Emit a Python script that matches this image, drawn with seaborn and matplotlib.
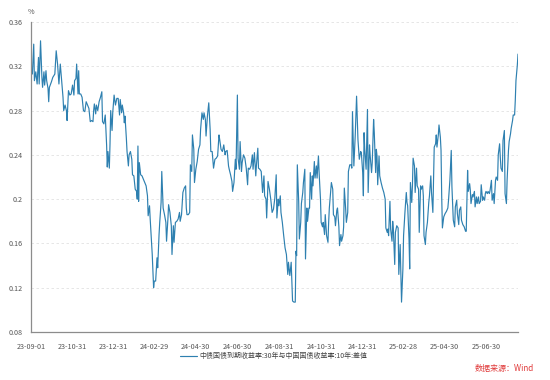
import matplotlib
matplotlib.use("Agg")
import matplotlib.pyplot as plt
import seaborn as sns
import pandas as pd
import numpy as np

# ---------------- data ----------------
start_date = "2023-09-01"
# day offsets from start_date
days_p1 = [0,2,4,5,7,9,11,12,14,16,17,19,20,22,23,25,26,27,30,32,35,37,39,41,43,45,47,48,50,52,
           53,55,57,59,61,63,64,66,67,69,70,71,73,75,77,79,81,83,85,87,89,91,92,93,95,96,98,100,102,104,
           105,107,109,111,112,113,115,116,117,119]
vals_p1 = [0.319,0.313,0.340,0.307,0.315,0.304,0.328,0.304,0.343,0.310,0.301,0.315,0.303,0.316,0.307,0.300,0.288,0.301,0.306,0.310,
           0.313,0.334,0.322,0.304,0.322,0.307,0.292,0.280,0.285,0.280,0.271,0.298,0.294,0.295,0.303,0.294,0.307,0.309,0.322,0.295,
           0.316,0.295,0.295,0.292,0.280,0.279,0.288,0.285,0.282,0.270,0.271,0.270,0.280,0.286,0.277,0.285,0.280,0.288,0.292,0.297,
           0.270,0.268,0.276,0.249,0.229,0.243,0.228,0.250,0.280,0.262]

days_p2 = [120,122,124,126,128,130,131,133,134,136,137,138,140,141,143,144,146,148,149,151,
           153,155,156,157,158,159,161,163,165,167,169,171,172,174,175,177,178,179,180,181,
           183,185,186,188,189,191,192,194,196,198,199,201,202,204,206,207,209,210,212,214,
           216,218,219,221,223,225,227,228,229,231,233,234,236,237]
vals_p2 = [0.278,0.294,0.285,0.291,0.291,0.276,0.290,0.278,0.285,0.278,0.269,0.275,0.255,0.243,0.230,0.240,0.243,0.236,0.222,0.221,
           0.209,0.207,0.200,0.248,0.198,0.233,0.222,0.221,0.218,0.215,0.212,0.203,0.185,0.194,0.182,0.161,0.150,0.134,0.120,0.126,
           0.126,0.147,0.138,0.168,0.179,0.197,0.225,0.192,0.186,0.179,0.162,0.182,0.195,0.188,0.176,0.150,0.176,0.161,0.179,0.180,
           0.182,0.188,0.180,0.186,0.206,0.210,0.212,0.192,0.186,0.186,0.188,0.231,0.225,0.258]

days_p3 = [239,240,242,244,246,248,249,251,253,254,256,257,259,261,263,264,266,268,270,272,
           274,276,277,279,281,283,285,286,288,290,291,293,295,296,298,300,301,303,304,306,
           307,309,310,312,314,316,318,319,321,323,325,326,328,330,331,333,334,336,338,340,
           342,343,345,346,348,350,352,354]
vals_p3 = [0.245,0.215,0.227,0.234,0.245,0.249,0.263,0.278,0.272,0.278,0.272,0.257,0.275,0.287,0.263,0.243,0.243,0.228,0.236,0.237,
           0.239,0.258,0.254,0.245,0.243,0.249,0.240,0.243,0.244,0.230,0.227,0.222,0.216,0.207,0.215,0.236,0.227,0.294,0.237,0.227,
           0.252,0.225,0.233,0.240,0.237,0.228,0.213,0.228,0.227,0.230,0.240,0.227,0.242,0.221,0.231,0.246,0.228,0.227,0.225,0.206,
           0.221,0.203,0.200,0.183,0.216,0.209,0.200,0.188]

days_p4 = [356,358,360,361,363,364,366,367,369,371,373,375,377,378,380,382,383,384,386,388,
           389,390,391,393,394,396,397,399,400,402,403,405,406,408,409,410,412,413,414,416,
           417,419,420,422,423,425,426,428,429,431,432,434,436,437,438,440,441,443,444,446,
           447,449,450,452,453,455,456,458,459,460,462,463,465,466,468,470,471,472]
vals_p4 = [0.191,0.201,0.222,0.183,0.200,0.194,0.203,0.188,0.179,0.167,0.156,0.150,0.132,0.143,0.131,0.143,0.125,0.108,0.107,0.107,
           0.153,0.149,0.231,0.198,0.164,0.179,0.196,0.206,0.215,0.227,0.146,0.192,0.180,0.192,0.192,0.224,0.200,0.221,0.212,0.234,
           0.219,0.230,0.219,0.239,0.224,0.200,0.179,0.175,0.179,0.168,0.186,0.167,0.161,0.179,0.192,0.207,0.215,0.209,0.186,0.184,
           0.176,0.190,0.192,0.175,0.158,0.168,0.162,0.167,0.175,0.210,0.191,0.179,0.188,0.225,0.231,0.231,0.228,0.279]

days_p5 = [474,476,478,480,482,484,485,487,488,489,490,492,494,495,497,498,500,501,503,504,
           506,507,508,509,511,512,514,516,518,520,521,523,524,525,527,528,530,531,532,534,
           535,537,539,540,542,543,544,546,547,549,551,552,553,555,556,557,559,560,561,563,
           564,566,567,569,570,572,573,575,576,577,579,580,582,584,585,587,588,590]
vals_p5 = [0.230,0.257,0.293,0.254,0.236,0.243,0.242,0.224,0.203,0.260,0.245,0.227,0.281,0.206,0.249,0.239,0.224,0.233,0.272,0.260,
           0.224,0.245,0.239,0.213,0.239,0.221,0.215,0.210,0.206,0.200,0.174,0.170,0.173,0.167,0.198,0.173,0.162,0.180,0.173,0.141,
           0.170,0.176,0.174,0.132,0.159,0.132,0.107,0.137,0.167,0.188,0.206,0.197,0.194,0.164,0.137,0.215,0.197,0.212,0.237,0.230,
           0.206,0.228,0.212,0.209,0.170,0.212,0.209,0.212,0.203,0.167,0.159,0.170,0.179,0.197,0.203,0.221,0.206,0.188]

days_p6 = [591,592,594,595,596,598,599,601,602,603,604,606,608,610,612,613,615,617,618,619,
           620,622,623,625,626,628,629,631,632,634,636,638,639,641,642,644,645,646,648,649,
           651,652,654,655,657,658,660,661,663,664,666,667,668,670,671,673,674,676,677,679,
           680,682,683,685,686,688,689,690,692,693,695,696,698,699,701,702,704,705,707,708,
           710,711,712,714,715]
vals_p6 = [0.217,0.247,0.250,0.258,0.247,0.258,0.267,0.256,0.244,0.202,0.174,0.184,0.187,0.189,0.192,0.199,0.217,0.244,0.211,0.195,
           0.181,0.175,0.193,0.199,0.187,0.177,0.190,0.193,0.181,0.177,0.175,0.171,0.171,0.226,0.207,0.214,0.208,0.196,0.204,0.202,
           0.207,0.193,0.202,0.196,0.202,0.196,0.198,0.213,0.199,0.202,0.199,0.205,0.207,0.205,0.207,0.205,0.208,0.217,0.199,0.205,
           0.196,0.217,0.220,0.217,0.240,0.250,0.238,0.228,0.225,0.253,0.262,0.205,0.196,0.217,0.244,0.252,0.259,0.264,0.271,0.276,
           0.276,0.289,0.307,0.321,0.331]

tick_dates = ["2023-09-01","2023-10-31","2023-12-31","2024-02-29","2024-04-30","2024-06-30",
              "2024-08-31","2024-10-31","2024-12-31","2025-02-28","2025-04-30","2025-06-30"]
tick_labels = ["23-09-01","23-10-31","23-12-31","24-02-29","24-04-30","24-06-30",
               "24-08-31","24-10-31","24-12-31","25-02-28","25-04-30","25-06-30"]
y_ticks = [0.08,0.12,0.16,0.20,0.24,0.28,0.32,0.36]
y_labels = ["0.08","0.12","0.16","0.2","0.24","0.28","0.32","0.36"]
series_name = "中债国债到期收益率:30年与中国国债收益率:10年:差值"
source_text = "数据来源：Wind"

# ---------------- build frame ----------------
days = days_p1 + days_p2 + days_p3 + days_p4 + days_p5 + days_p6
vals = vals_p1 + vals_p2 + vals_p3 + vals_p4 + vals_p5 + vals_p6
t0 = pd.Timestamp(start_date)
df = pd.DataFrame({"date": t0 + pd.to_timedelta(days, unit="D"), "value": vals})

# ---------------- style ----------------
sns.set_theme(style="white")
plt.rcParams["font.family"] = ["Noto Sans CJK SC", "DejaVu Sans"]
plt.rcParams["axes.unicode_minus"] = False

W, H = 550, 380
fig = plt.figure(figsize=(W / 100, H / 100), dpi=100)
ax = fig.add_axes([31 / W, (H - 332) / H, 487 / W, 310 / H])

line_color = "#2e80b0"
sns.lineplot(data=df, x="date", y="value", ax=ax, color=line_color, linewidth=0.85,
             estimator=None, label=series_name)

x_end = t0 + pd.Timedelta(days=715)
ax.set_xlim(t0, x_end)
ax.set_ylim(0.08, 0.36)

ax.set_yticks(y_ticks)
ax.set_yticklabels(y_labels)
ax.set_xticks(pd.to_datetime(tick_dates))
ax.set_xticklabels(tick_labels)
ax.set_xticks([x_end], minor=True)

ax.set_xlabel("")
ax.set_ylabel("")

for y in y_ticks[1:]:
    ax.axhline(y, color="#e2e2e2", linewidth=0.6, linestyle=(0, (3, 3)), zorder=0)

for side in ["top", "right"]:
    ax.spines[side].set_visible(False)
for side in ["left", "bottom"]:
    ax.spines[side].set_color("#8c8c8c")
    ax.spines[side].set_linewidth(0.9)

ax.tick_params(axis="both", which="both", direction="out", length=4, width=0.8,
               color="#8c8c8c", labelcolor="#555555", labelsize=5.2, pad=2)
ax.tick_params(axis="x", pad=4)

fig.text(31 / W, 1 - 12 / H, "%", ha="center", va="center", fontsize=5.2, color="#555555")

leg = ax.legend(loc="center", bbox_to_anchor=(274 / W, 24 / H), bbox_transform=fig.transFigure,
                frameon=False, fontsize=5.0, handlelength=2.4, handletextpad=0.4)
for t in leg.get_texts():
    t.set_color("#444444")

fig.text(534 / W, 1 - 368 / H, source_text, ha="right", va="center", fontsize=5.8, color="#e03a3a")

fig.savefig("out.png", dpi=100)
